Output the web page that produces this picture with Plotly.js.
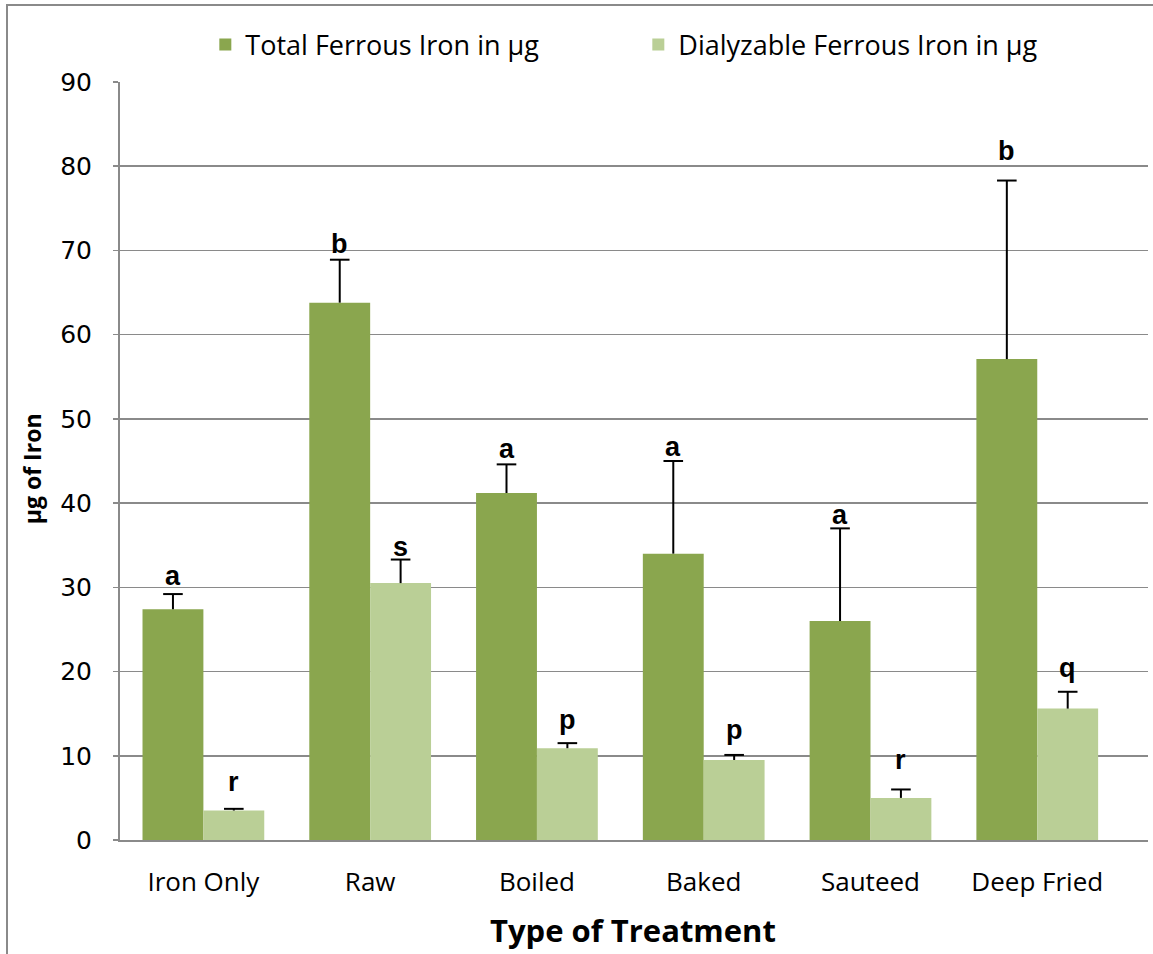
<!DOCTYPE html>
<html>
<head>
<meta charset="utf-8">
<script src="https://cdn.plot.ly/plotly-3.0.1.min.js"></script>
<style>
  html, body { margin: 0; padding: 0; background: #fff; }
  #wrap { position: relative; width: 1153px; height: 954px; overflow: hidden; }
  #chart { position: absolute; left: 0; top: 0; width: 1153px; height: 954px; }
  #frame { position: absolute; left: 6px; top: 4px; width: 1200px; height: 1000px;
           border-top: 2px solid #8a8a8a; border-left: 2px solid #8a8a8a; pointer-events: none; }
</style>
</head>
<body>
<div id="wrap">
  <div id="chart"></div>
  <div id="frame"></div>
</div>
<script>
// ---- data ----
const categories = ["Iron Only", "Raw", "Boiled", "Baked", "Sauteed", "Deep Fried"];
const totalIron = [27.4, 63.8, 41.2, 34.0, 26.0, 57.1];
const totalErr  = [1.8, 5.1, 3.4, 11.0, 11.0, 21.2];
const dialIron  = [3.5, 30.5, 10.9, 9.5, 5.0, 15.6];
const dialErr   = [0.2, 2.8, 0.6, 0.6, 1.0, 2.0];
const totalLetters = ["a", "b", "a", "a", "a", "b"];
const dialLetters  = ["r", "s", "p", "p", "r", "q"];
const totalLetterY = [31.4, 70.8, 46.4, 46.7, 38.6, 81.8];
const dialLetterY  = [6.9, 34.8, 14.2, 13.1, 9.5, 20.4];
const yTicks = [0, 10, 20, 30, 40, 50, 60, 70, 80, 90];

// ---- styling / layout helpers ----
const BARGAP = 0.27;
const barW = (1 - BARGAP) / 2;
const idx = categories.map((_, i) => i);
const xTotal = idx.map(i => i - barW / 2);
const xDial  = idx.map(i => i + barW / 2);
const zeros = categories.map(() => 0);

const sans = '"Open Sans", sans-serif';
const letterFont = { family: '"Liberation Sans", Arial, sans-serif', size: 27, color: '#000' };

function errTrace(xs, vals, errs) {
  return {
    type: 'scatter', mode: 'markers', showlegend: false, hoverinfo: 'skip',
    x: xs, y: vals.map((v, i) => v + errs[i]),
    marker: { symbol: 'line-ew', size: 14, color: '#000', line: { color: '#000', width: 2 } },
    error_y: { type: 'data', symmetric: false, array: zeros, arrayminus: errs,
               color: '#000', thickness: 2, width: 0 }
  };
}

const traces = [
  { type: 'bar', name: 'Total Ferrous Iron in µg', x: idx, y: totalIron,
    marker: { color: '#8aa64e' } },
  { type: 'bar', name: 'Dialyzable Ferrous Iron in µg', x: idx, y: dialIron,
    marker: { color: '#bacf96' } },
  errTrace(xTotal, totalIron, totalErr),
  errTrace(xDial, dialIron, dialErr)
];

const annotations = [];
categories.forEach((c, i) => {
  annotations.push({ x: xTotal[i], y: totalLetterY[i], xref: 'x', yref: 'y',
    text: '<b>' + totalLetters[i] + '</b>', showarrow: false, xanchor: 'center', yanchor: 'middle', font: letterFont });
  annotations.push({ x: xDial[i], y: dialLetterY[i], xref: 'x', yref: 'y',
    text: '<b>' + dialLetters[i] + '</b>', showarrow: false, xanchor: 'center', yanchor: 'middle', font: letterFont });
});
annotations.push({ xref: 'paper', yref: 'paper', x: -0.086, y: 0.49, xanchor: 'center', yanchor: 'middle',
  textangle: -90, text: '<b>µg of Iron</b>', showarrow: false, font: { family: sans, size: 23, color: '#000' } });
annotations.push({ xref: 'paper', yref: 'paper', x: 0.499, y: -0.1187, xanchor: 'center', yanchor: 'middle',
  text: '<b>Type of Treatment</b>', showarrow: false, font: { family: sans, size: 31, color: '#000' } });

const layout = {
  width: 1153, height: 954,
  margin: { l: 120, r: 5, t: 82, b: 114 },
  paper_bgcolor: '#fff', plot_bgcolor: '#fff',
  barmode: 'group', bargap: BARGAP, bargroupgap: 0,
  showlegend: true,
  legend: { orientation: 'h', x: 0.083, xanchor: 'left', y: 1.049, yanchor: 'middle',
            font: { family: sans, size: 27, color: '#000' }, entrywidth: 388, traceorder: 'normal' },
  xaxis: {
    type: 'linear', range: [-0.5, 5.664], showgrid: false, zeroline: false,
    tickvals: idx, ticktext: categories,
    showline: true, linecolor: '#8a8a8a', linewidth: 2, ticks: '',
    tickfont: { family: sans, size: 26, color: '#000' }, ticklabelstandoff: 18
  },
  yaxis: {
    range: [0, 90], tickvals: yTicks, ticktext: yTicks.map(String),
    showgrid: true, gridcolor: '#8a8a8a', gridwidth: 1.5, zeroline: false,
    showline: true, linecolor: '#8a8a8a', linewidth: 2,
    ticks: 'outside', ticklen: 5, tickcolor: '#8a8a8a', tickwidth: 1.5,
    tickfont: { family: '"DejaVu Sans", Verdana, sans-serif', size: 25, color: '#000' }, ticklabelstandoff: 16
  },
  annotations: annotations
};

Plotly.newPlot('chart', traces, layout, { displayModeBar: false, staticPlot: true });
</script>
</body>
</html>
